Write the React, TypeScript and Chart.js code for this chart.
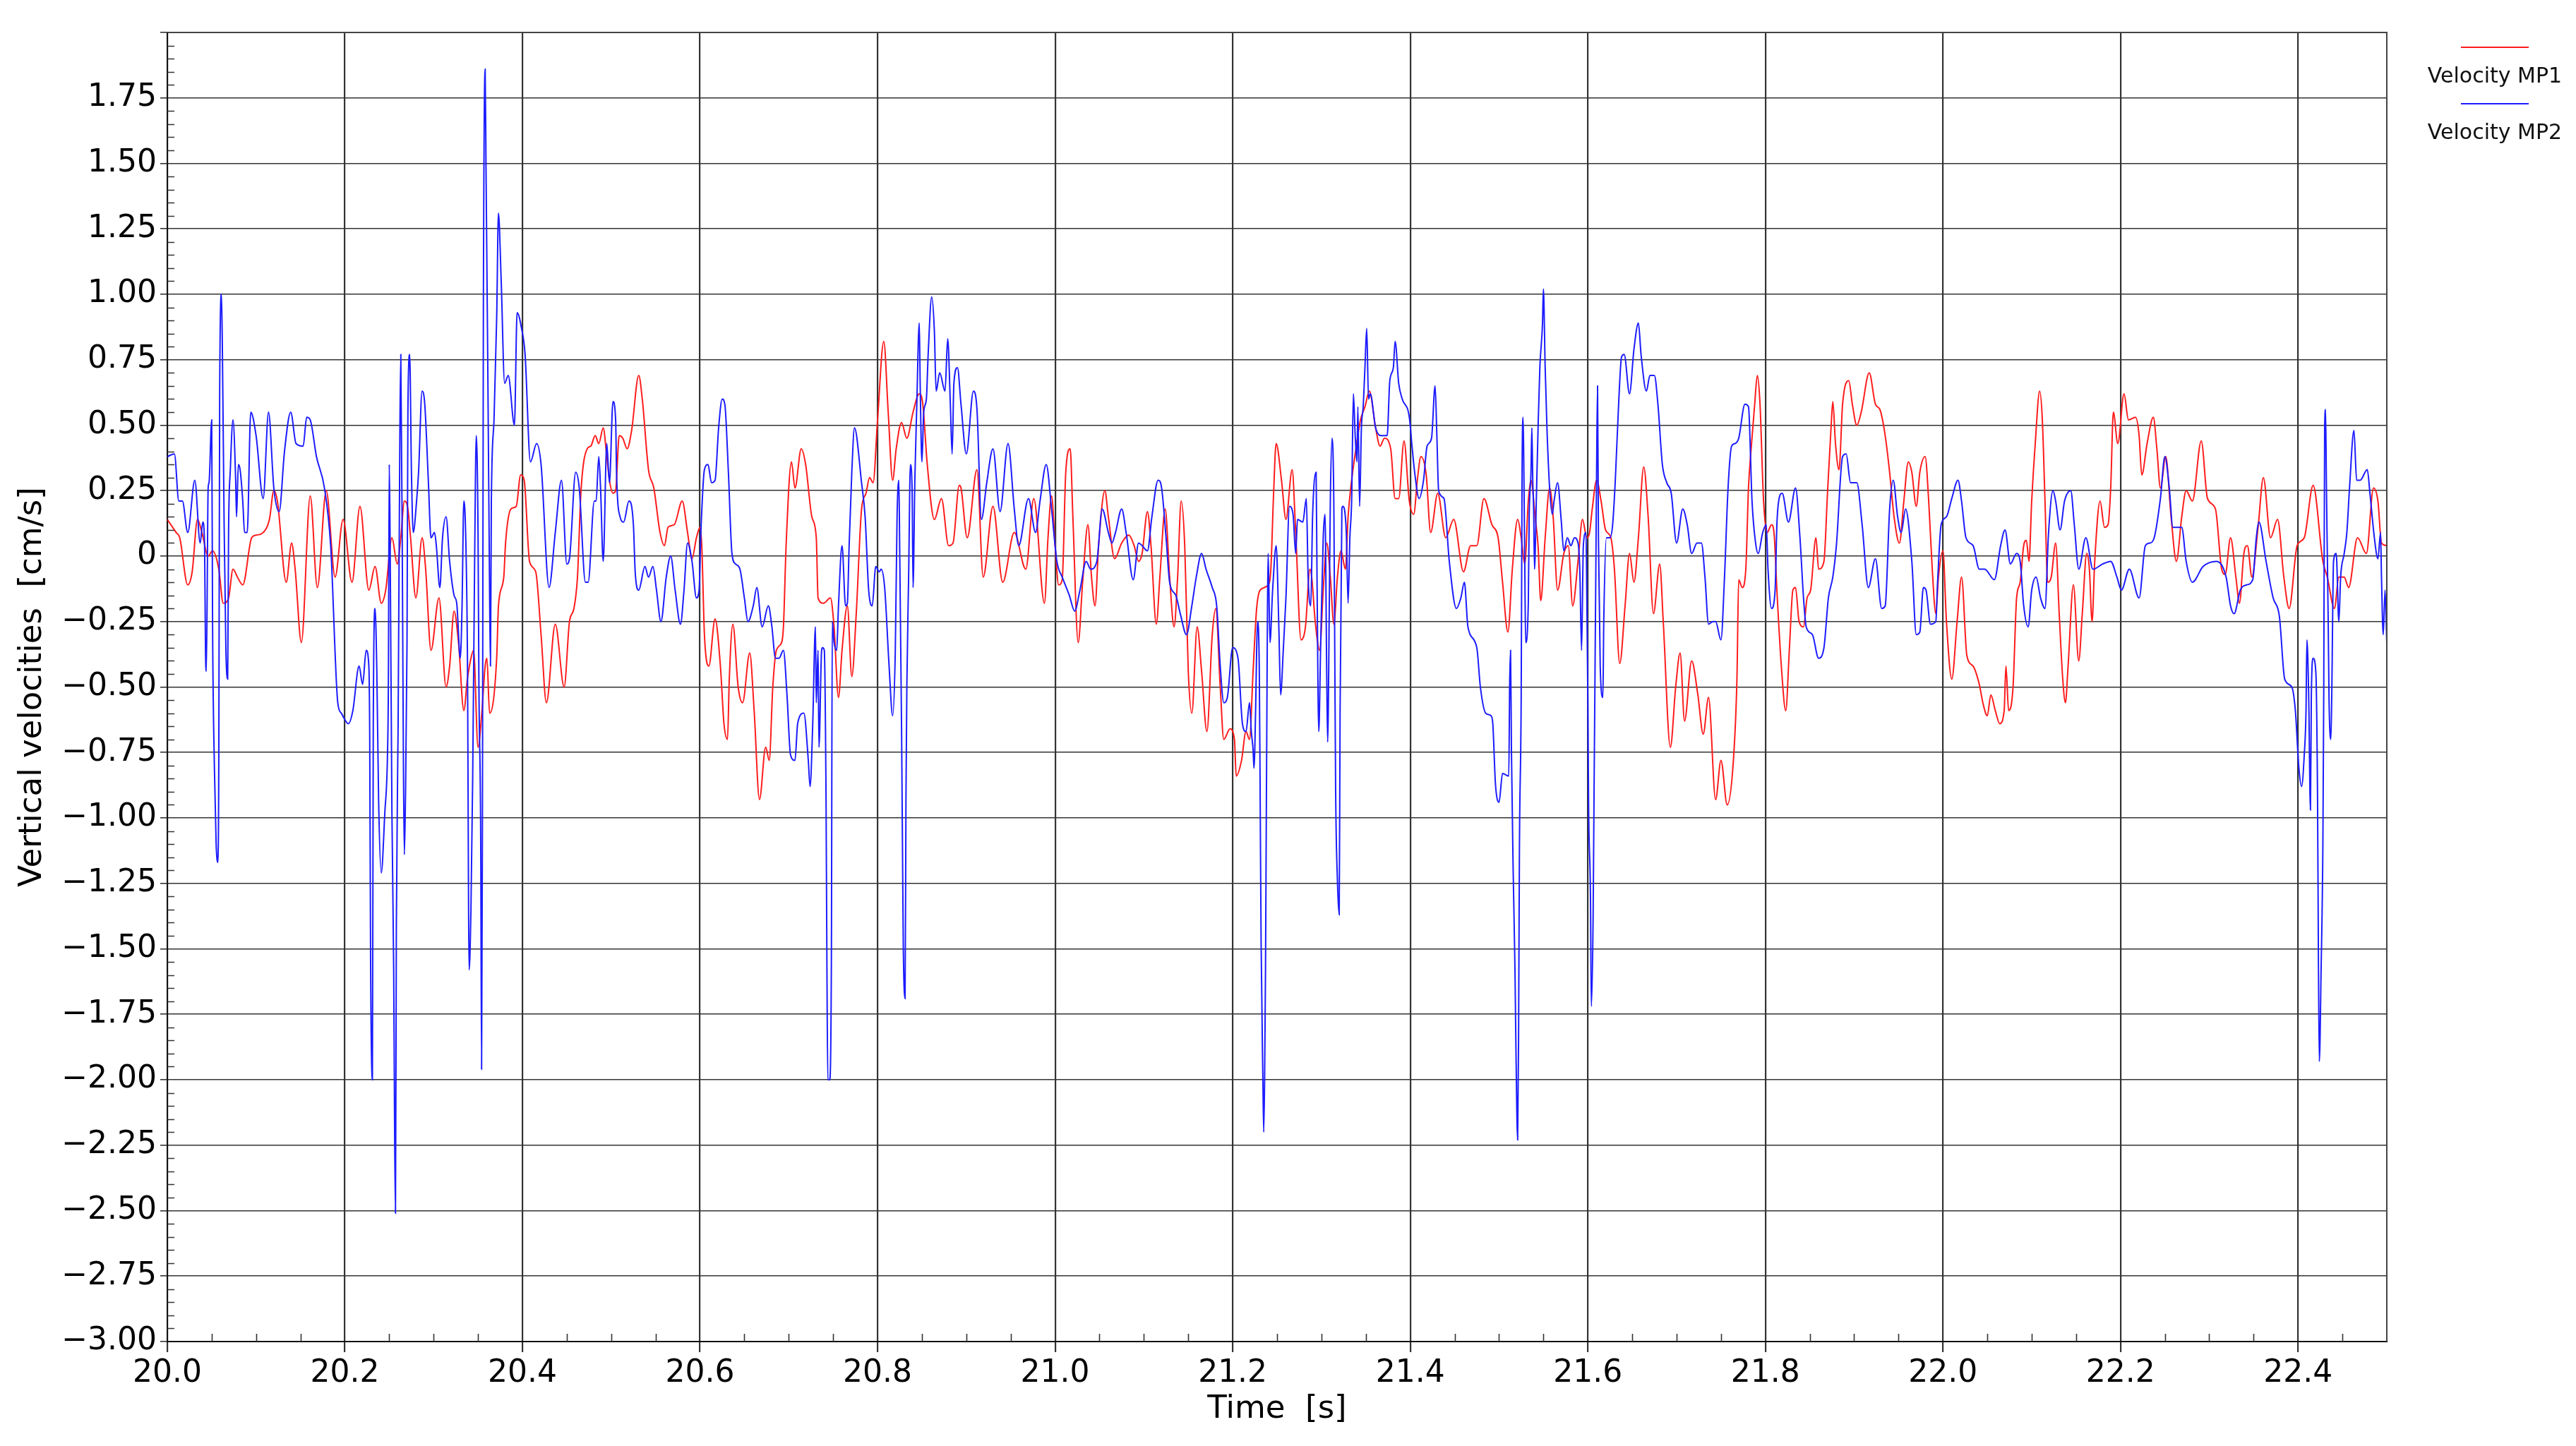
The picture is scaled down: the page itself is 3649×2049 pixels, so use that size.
import React, { useEffect, useRef } from "react";
import { Chart, registerables } from "chart.js";

Chart.register(...registerables);

// ---------- data ----------
const mp1Time = [
  20.000, 20.010, 20.014, 20.023, 20.028, 20.034, 20.039, 20.046, 20.051, 20.058,
  20.063, 20.069, 20.074, 20.079, 20.085, 20.095, 20.100, 20.108, 20.115, 20.120,
  20.124, 20.134, 20.140, 20.144, 20.151, 20.161, 20.169, 20.179, 20.189, 20.198,
  20.208, 20.217, 20.227, 20.234, 20.241, 20.246, 20.253, 20.259, 20.263, 20.267,
  20.271, 20.274, 20.280, 20.287, 20.291, 20.297, 20.306, 20.314, 20.318, 20.323,
  20.328, 20.334, 20.338, 20.342, 20.345, 20.350, 20.354, 20.358, 20.360, 20.363,
  20.371, 20.373, 20.379, 20.381, 20.387, 20.393, 20.398, 20.402, 20.408, 20.415,
  20.421, 20.427, 20.437, 20.447, 20.453, 20.458, 20.462, 20.466, 20.473, 20.477,
  20.482, 20.486, 20.491, 20.495, 20.498, 20.502, 20.505, 20.509, 20.513, 20.518,
  20.523, 20.531, 20.535, 20.542, 20.548, 20.555, 20.560, 20.564, 20.571, 20.580,
  20.586, 20.591, 20.596, 20.600, 20.602, 20.605, 20.610, 20.617, 20.623, 20.627,
  20.631, 20.633, 20.637, 20.643, 20.648, 20.656, 20.661, 20.667, 20.674, 20.678,
  20.682, 20.686, 20.692, 20.694, 20.697, 20.703, 20.707, 20.714, 20.719, 20.726,
  20.731, 20.733, 20.739, 20.747, 20.751, 20.756, 20.760, 20.766, 20.771, 20.776,
  20.782, 20.787, 20.791, 20.795, 20.800, 20.807, 20.812, 20.817, 20.821, 20.827,
  20.833, 20.840, 20.847, 20.851, 20.856, 20.864, 20.872, 20.880, 20.885, 20.892,
  20.894, 20.901, 20.912, 20.919, 20.930, 20.941, 20.954, 20.967, 20.976, 20.988,
  20.992, 20.996, 21.000, 21.004, 21.008, 21.012, 21.017, 21.020, 21.026, 21.031,
  21.037, 21.041, 21.045, 21.049, 21.056, 21.060, 21.067, 21.075, 21.083, 21.089,
  21.094, 21.098, 21.104, 21.108, 21.114, 21.118, 21.124, 21.129, 21.134, 21.138,
  21.142, 21.146, 21.150, 21.154, 21.160, 21.165, 21.171, 21.177, 21.181, 21.186,
  21.190, 21.197, 21.202, 21.204, 21.210, 21.215, 21.219, 21.223, 21.227, 21.231,
  21.240, 21.243, 21.246, 21.249, 21.255, 21.260, 21.267, 21.271, 21.277, 21.282,
  21.287, 21.289, 21.293, 21.298, 21.302, 21.306, 21.310, 21.314, 21.318, 21.322,
  21.327, 21.330, 21.334, 21.338, 21.344, 21.349, 21.354, 21.361, 21.366, 21.371,
  21.378, 21.383, 21.387, 21.393, 21.399, 21.404, 21.408, 21.412, 21.418, 21.423,
  21.431, 21.440, 21.449, 21.460, 21.468, 21.475, 21.483, 21.492, 21.499, 21.504,
  21.510, 21.515, 21.521, 21.525, 21.529, 21.533, 21.536, 21.541, 21.544, 21.547,
  21.552, 21.557, 21.561, 21.566, 21.573, 21.578, 21.583, 21.589, 21.594, 21.599,
  21.602, 21.605, 21.610, 21.615, 21.620, 21.626, 21.630, 21.636, 21.642, 21.647,
  21.652, 21.657, 21.663, 21.668, 21.674, 21.681, 21.685, 21.693, 21.699, 21.704,
  21.709, 21.717, 21.724, 21.730, 21.736, 21.744, 21.750, 21.757, 21.764, 21.768,
  21.770, 21.774, 21.778, 21.781, 21.784, 21.788, 21.791, 21.794, 21.798, 21.802,
  21.807, 21.810, 21.813, 21.818, 21.823, 21.827, 21.831, 21.834, 21.838, 21.843,
  21.847, 21.851, 21.857, 21.860, 21.866, 21.870, 21.874, 21.876, 21.879, 21.883,
  21.887, 21.894, 21.898, 21.903, 21.908, 21.917, 21.924, 21.929, 21.935, 21.940,
  21.945, 21.951, 21.956, 21.961, 21.965, 21.970, 21.974, 21.980, 21.984, 21.988,
  21.992, 21.995, 22.000, 22.004, 22.010, 22.016, 22.021, 22.027, 22.034, 22.041,
  22.045, 22.050, 22.054, 22.059, 22.064, 22.069, 22.071, 22.074, 22.079, 22.083,
  22.087, 22.091, 22.094, 22.097, 22.100, 22.104, 22.109, 22.112, 22.115, 22.118,
  22.122, 22.127, 22.131, 22.135, 22.138, 22.141, 22.147, 22.153, 22.157, 22.162,
  22.165, 22.168, 22.171, 22.177, 22.182, 22.186, 22.189, 22.192, 22.197, 22.204,
  22.209, 22.217, 22.221, 22.224, 22.230, 22.237, 22.241, 22.245, 22.251, 22.257,
  22.263, 22.269, 22.274, 22.281, 22.291, 22.298, 22.307, 22.314, 22.318, 22.324,
  22.330, 22.334, 22.339, 22.343, 22.348, 22.355, 22.361, 22.369, 22.377, 22.384,
  22.390, 22.399, 22.407, 22.417, 22.428, 22.433, 22.441, 22.446, 22.452, 22.457,
  22.467, 22.477, 22.485, 22.490, 22.494, 22.500,
];

const mp1Velocity = [
  0.14, 0.09, 0.07, -0.11, -0.06, 0.14, 0.09, 0.00, 0.02, -0.05,
  -0.18, -0.16, -0.05, -0.08, -0.11, 0.07, 0.08, 0.09, 0.14, 0.25,
  0.21, -0.10, 0.05, -0.05, -0.33, 0.23, -0.12, 0.25, -0.08, 0.14,
  -0.10, 0.19, -0.13, -0.04, -0.18, -0.13, 0.07, -0.03, 0.07, 0.21,
  0.18, 0.07, -0.16, 0.07, -0.05, -0.36, -0.16, -0.50, -0.42, -0.21,
  -0.33, -0.59, -0.47, -0.39, -0.36, -0.73, -0.61, -0.42, -0.39, -0.60,
  -0.39, -0.19, -0.08, 0.05, 0.18, 0.19, 0.31, 0.29, -0.02, -0.06,
  -0.30, -0.56, -0.26, -0.50, -0.25, -0.20, -0.08, 0.25, 0.41, 0.42,
  0.46, 0.43, 0.49, 0.38, 0.29, 0.24, 0.25, 0.46, 0.45, 0.41,
  0.48, 0.69, 0.60, 0.33, 0.26, 0.09, 0.04, 0.11, 0.12, 0.21,
  0.09, -0.01, 0.07, 0.11, 0.04, -0.30, -0.42, -0.24, -0.42, -0.64,
  -0.70, -0.47, -0.26, -0.50, -0.56, -0.37, -0.59, -0.93, -0.73, -0.78,
  -0.50, -0.36, -0.33, -0.27, 0.04, 0.36, 0.26, 0.41, 0.35, 0.15,
  0.07, -0.16, -0.18, -0.16, -0.27, -0.54, -0.36, -0.19, -0.46, -0.22,
  0.18, 0.24, 0.30, 0.28, 0.52, 0.82, 0.55, 0.29, 0.41, 0.51,
  0.45, 0.55, 0.62, 0.58, 0.35, 0.14, 0.22, 0.04, 0.05, 0.27,
  0.26, 0.07, 0.33, -0.08, 0.19, -0.10, 0.09, -0.05, 0.22, -0.18,
  0.07, 0.23, 0.04, -0.11, -0.09, 0.32, 0.41, 0.15, -0.33, -0.10,
  0.12, -0.08, -0.19, 0.04, 0.25, 0.15, -0.01, 0.05, 0.08, 0.04,
  -0.02, 0.01, 0.17, 0.04, -0.26, -0.08, 0.18, -0.08, -0.27, -0.08,
  0.21, 0.04, -0.44, -0.60, -0.27, -0.44, -0.67, -0.30, -0.20, -0.50,
  -0.70, -0.66, -0.70, -0.84, -0.78, -0.67, -0.70, -0.44, -0.20, -0.13,
  -0.11, -0.05, 0.23, 0.43, 0.29, 0.14, 0.33, 0.09, -0.32, -0.27,
  -0.05, -0.08, -0.25, -0.36, -0.13, 0.05, -0.08, -0.26, -0.08, 0.02,
  -0.05, 0.15, 0.29, 0.39, 0.52, 0.57, 0.63, 0.49, 0.42, 0.45,
  0.41, 0.22, 0.22, 0.44, 0.21, 0.16, 0.29, 0.38, 0.31, 0.09,
  0.24, 0.07, 0.14, -0.06, 0.04, 0.04, 0.22, 0.12, 0.07, -0.10,
  -0.29, -0.05, 0.14, 0.07, -0.03, 0.21, 0.29, 0.14, 0.04, -0.17,
  0.07, 0.26, 0.15, -0.13, 0.01, 0.04, -0.19, -0.02, 0.14, 0.07,
  0.09, 0.18, 0.29, 0.21, 0.10, 0.07, -0.05, -0.41, -0.19, 0.01,
  -0.10, 0.07, 0.34, 0.15, -0.22, -0.03, -0.25, -0.73, -0.50, -0.37,
  -0.63, -0.40, -0.53, -0.68, -0.54, -0.93, -0.78, -0.95, -0.78, -0.47,
  -0.09, -0.12, -0.05, 0.26, 0.41, 0.58, 0.69, 0.58, 0.21, 0.09,
  0.12, 0.08, -0.13, -0.42, -0.59, -0.36, -0.13, -0.12, -0.25, -0.27,
  -0.16, -0.13, 0.07, -0.05, -0.02, 0.24, 0.49, 0.59, 0.43, 0.33,
  0.58, 0.67, 0.58, 0.50, 0.55, 0.70, 0.58, 0.56, 0.46, 0.32,
  0.15, 0.05, 0.21, 0.36, 0.32, 0.19, 0.32, 0.38, 0.21, -0.05,
  -0.22, -0.08, 0.02, -0.25, -0.47, -0.25, -0.08, -0.38, -0.42, -0.49,
  -0.56, -0.61, -0.53, -0.59, -0.64, -0.59, -0.42, -0.59, -0.50, -0.16,
  -0.10, 0.04, 0.06, -0.02, 0.21, 0.43, 0.63, 0.52, 0.21, -0.10,
  -0.08, 0.05, -0.22, -0.47, -0.56, -0.42, -0.11, -0.40, -0.22, 0.01,
  -0.05, -0.25, -0.02, 0.21, 0.11, 0.12, 0.26, 0.55, 0.43, 0.62,
  0.52, 0.53, 0.46, 0.31, 0.43, 0.53, 0.41, 0.26, 0.38, 0.15,
  -0.02, 0.15, 0.25, 0.21, 0.44, 0.22, 0.18, -0.05, -0.07, 0.07,
  -0.08, -0.18, 0.01, 0.04, -0.08, 0.11, 0.30, 0.07, 0.14, -0.08,
  -0.20, 0.04, 0.07, 0.27, -0.02, -0.08, -0.20, -0.08, -0.08, -0.12,
  0.07, 0.01, 0.26, 0.21, 0.05, 0.04,
];

const mp2Time = [
  20.000, 20.008, 20.013, 20.017, 20.023, 20.031, 20.037, 20.040, 20.042, 20.043,
  20.044, 20.046, 20.047, 20.050, 20.051, 20.053, 20.055, 20.057, 20.058, 20.059,
  20.061, 20.062, 20.064, 20.066, 20.068, 20.069, 20.071, 20.074, 20.077, 20.078,
  20.080, 20.082, 20.085, 20.087, 20.090, 20.094, 20.100, 20.108, 20.114, 20.120,
  20.126, 20.132, 20.139, 20.145, 20.153, 20.157, 20.161, 20.168, 20.177, 20.184,
  20.192, 20.196, 20.204, 20.209, 20.216, 20.220, 20.224, 20.227, 20.228, 20.229,
  20.231, 20.232, 20.234, 20.236, 20.238, 20.241, 20.245, 20.248, 20.249, 20.250,
  20.251, 20.253, 20.255, 20.256, 20.257, 20.258, 20.260, 20.262, 20.263, 20.265,
  20.266, 20.267, 20.268, 20.270, 20.271, 20.273, 20.275, 20.277, 20.281, 20.283,
  20.287, 20.290, 20.294, 20.297, 20.301, 20.303, 20.307, 20.310, 20.314, 20.318,
  20.323, 20.326, 20.330, 20.332, 20.334, 20.336, 20.338, 20.340, 20.342, 20.344,
  20.346, 20.348, 20.350, 20.351, 20.353, 20.354, 20.355, 20.356, 20.358, 20.359,
  20.361, 20.363, 20.364, 20.365, 20.368, 20.371, 20.373, 20.376, 20.380, 20.384,
  20.391, 20.394, 20.399, 20.403, 20.409, 20.416, 20.421, 20.430, 20.437, 20.444,
  20.450, 20.453, 20.460, 20.464, 20.471, 20.474, 20.481, 20.483, 20.486, 20.488,
  20.491, 20.495, 20.498, 20.502, 20.505, 20.506, 20.510, 20.514, 20.520, 20.525,
  20.527, 20.531, 20.538, 20.542, 20.547, 20.551, 20.556, 20.562, 20.567, 20.572,
  20.578, 20.582, 20.586, 20.591, 20.596, 20.599, 20.601, 20.605, 20.609, 20.613,
  20.617, 20.621, 20.625, 20.628, 20.632, 20.636, 20.640, 20.645, 20.650, 20.654,
  20.660, 20.664, 20.670, 20.677, 20.681, 20.685, 20.689, 20.694, 20.698, 20.702,
  20.707, 20.710, 20.717, 20.722, 20.724, 20.727, 20.730, 20.731, 20.733, 20.734,
  20.737, 20.738, 20.740, 20.742, 20.743, 20.744, 20.746, 20.748, 20.749, 20.751,
  20.754, 20.756, 20.760, 20.764, 20.766, 20.768, 20.771, 20.774, 20.782, 20.786,
  20.790, 20.794, 20.798, 20.802, 20.804, 20.808, 20.813, 20.817, 20.820, 20.822,
  20.824, 20.825, 20.827, 20.828, 20.829, 20.831, 20.832, 20.833, 20.835, 20.837,
  20.839, 20.840, 20.842, 20.844, 20.847, 20.848, 20.850, 20.852, 20.855, 20.857,
  20.861, 20.864, 20.866, 20.870, 20.876, 20.879, 20.882, 20.884, 20.886, 20.890,
  20.894, 20.900, 20.908, 20.912, 20.917, 20.923, 20.930, 20.938, 20.947, 20.954,
  20.959, 20.970, 20.978, 20.983, 20.990, 20.996, 21.002, 21.008, 21.016, 21.022,
  21.028, 21.035, 21.040, 21.047, 21.053, 21.060, 21.064, 21.068, 21.075, 21.080,
  21.088, 21.094, 21.098, 21.104, 21.109, 21.116, 21.120, 21.125, 21.129, 21.136,
  21.141, 21.148, 21.154, 21.159, 21.165, 21.170, 21.177, 21.182, 21.186, 21.190,
  21.194, 21.200, 21.206, 21.211, 21.215, 21.219, 21.221, 21.223, 21.224, 21.226,
  21.227, 21.228, 21.230, 21.231, 21.232, 21.234, 21.235, 21.236, 21.237, 21.238,
  21.240, 21.242, 21.245, 21.249, 21.252, 21.254, 21.257, 21.260, 21.264, 21.268,
  21.271, 21.273, 21.279, 21.283, 21.285, 21.288, 21.290, 21.294, 21.295, 21.297,
  21.299, 21.302, 21.304, 21.306, 21.307, 21.309, 21.310, 21.312, 21.314, 21.315,
  21.316, 21.318, 21.320, 21.321, 21.323, 21.324, 21.328, 21.330, 21.332, 21.334,
  21.336, 21.338, 21.340, 21.341, 21.343, 21.345, 21.347, 21.349, 21.351, 21.353,
  21.355, 21.361, 21.367, 21.374, 21.377, 21.381, 21.383, 21.387, 21.391, 21.399,
  21.402, 21.405, 21.410, 21.415, 21.419, 21.424, 21.428, 21.430, 21.432, 21.438,
  21.444, 21.452, 21.457, 21.461, 21.465, 21.475, 21.479, 21.485, 21.491, 21.493,
  21.496, 21.500, 21.504, 21.511, 21.512, 21.513, 21.514, 21.516, 21.518, 21.519,
  21.521, 21.522, 21.523, 21.525, 21.526, 21.527, 21.529, 21.530, 21.533, 21.534,
  21.536, 21.537, 21.538, 21.539, 21.540, 21.542, 21.544, 21.546, 21.549, 21.550,
  21.552, 21.554, 21.557, 21.560, 21.562, 21.566, 21.570, 21.573, 21.577, 21.581,
  21.585, 21.589, 21.591, 21.593, 21.595, 21.598, 21.599, 21.600, 21.601, 21.603,
  21.604, 21.606, 21.607, 21.609, 21.610, 21.611, 21.612, 21.614, 21.617, 21.618,
  21.621, 21.625, 21.628, 21.631, 21.635, 21.638, 21.641, 21.647, 21.652, 21.657,
  21.660, 21.666, 21.670, 21.675, 21.679, 21.684, 21.689, 21.694, 21.700, 21.707,
  21.712, 21.717, 21.723, 21.728, 21.732, 21.736, 21.741, 21.744, 21.750, 21.754,
  21.758, 21.762, 21.766, 21.770, 21.777, 21.781, 21.785, 21.789, 21.792, 21.797,
  21.801, 21.803, 21.807, 21.811, 21.813, 21.815, 21.819, 21.826, 21.834, 21.839,
  21.843, 21.846, 21.853, 21.860, 21.866, 21.871, 21.876, 21.880, 21.887, 21.891,
  21.896, 21.903, 21.909, 21.916, 21.924, 21.931, 21.935, 21.940, 21.944, 21.949,
  21.953, 21.958, 21.965, 21.970, 21.974, 21.978, 21.981, 21.986, 21.992, 21.994,
  21.998, 22.004, 22.010, 22.017, 22.021, 22.026, 22.034, 22.041, 22.047, 22.058,
  22.065, 22.070, 22.076, 22.083, 22.087, 22.091, 22.096, 22.100, 22.105, 22.110,
  22.115, 22.119, 22.124, 22.127, 22.132, 22.137, 22.144, 22.148, 22.153, 22.161,
  22.169, 22.180, 22.189, 22.196, 22.201, 22.210, 22.221, 22.228, 22.233, 22.238,
  22.245, 22.250, 22.255, 22.259, 22.269, 22.274, 22.281, 22.293, 22.308, 22.319,
  22.324, 22.328, 22.335, 22.342, 22.349, 22.353, 22.356, 22.364, 22.372, 22.379,
  22.385, 22.393, 22.397, 22.401, 22.404, 22.407, 22.409, 22.410, 22.412, 22.414,
  22.415, 22.417, 22.420, 22.422, 22.423, 22.424, 22.426, 22.428, 22.429, 22.430,
  22.431, 22.432, 22.434, 22.435, 22.437, 22.438, 22.440, 22.443, 22.446, 22.448,
  22.452, 22.455, 22.458, 22.463, 22.466, 22.470, 22.478, 22.481, 22.486, 22.490,
  22.493, 22.494, 22.496, 22.498, 22.500,
];

const mp2Velocity = [
  0.38, 0.39, 0.21, 0.21, 0.09, 0.29, 0.05, 0.13, 0.04, -0.36,
  -0.44, 0.26, 0.28, 0.52, -0.27, -0.80, -1.10, -1.17, -0.78, 0.63,
  1.00, 0.80, 0.12, -0.36, -0.47, 0.09, 0.33, 0.52, 0.29, 0.15,
  0.35, 0.33, 0.21, 0.09, 0.09, 0.55, 0.46, 0.22, 0.55, 0.26,
  0.17, 0.40, 0.55, 0.43, 0.42, 0.53, 0.52, 0.38, 0.26, 0.04,
  -0.56, -0.60, -0.64, -0.59, -0.42, -0.49, -0.36, -0.42, -0.69, -1.55,
  -2.00, -0.64, -0.20, -0.44, -0.93, -1.21, -0.98, -0.76, -0.50, 0.35,
  0.04, -0.98, -1.58, -2.17, -2.51, -1.41, -0.64, 0.49, 0.77, -0.19,
  -0.81, -1.14, -0.98, -0.33, 0.55, 0.77, 0.32, 0.09, 0.22, 0.32,
  0.63, 0.58, 0.29, 0.07, 0.09, 0.04, -0.12, 0.07, 0.15, -0.02,
  -0.15, -0.18, -0.39, -0.19, 0.21, 0.09, -0.36, -1.58, -1.35, -0.84,
  -0.08, 0.46, 0.09, -0.50, -1.07, -1.96, -0.93, 0.91, 1.86, 1.48,
  0.72, -0.13, -0.42, 0.21, 0.52, 0.91, 1.31, 1.06, 0.66, 0.69,
  0.50, 0.93, 0.87, 0.77, 0.36, 0.43, 0.35, -0.12, 0.09, 0.29,
  -0.03, -0.01, 0.32, 0.26, -0.10, -0.10, 0.21, 0.21, 0.38, 0.26,
  -0.02, 0.43, 0.28, 0.59, 0.52, 0.32, 0.15, 0.13, 0.21, 0.12,
  -0.06, -0.13, -0.04, -0.08, -0.04, -0.13, -0.25, -0.08, 0.00, -0.13,
  -0.26, -0.13, 0.05, -0.02, -0.16, -0.13, 0.09, 0.33, 0.35, 0.28,
  0.29, 0.49, 0.60, 0.58, 0.32, 0.01, -0.03, -0.05, -0.16, -0.25,
  -0.19, -0.12, -0.27, -0.19, -0.27, -0.39, -0.39, -0.36, -0.53, -0.76,
  -0.78, -0.64, -0.60, -0.78, -0.88, -0.64, -0.27, -0.56, -0.36, -0.73,
  -0.36, -0.35, -0.36, -0.93, -1.58, -2.00, -2.00, -1.55, -0.25, -0.33,
  -0.36, -0.19, 0.04, -0.19, -0.18, 0.04, 0.32, 0.49, 0.28, 0.15,
  -0.13, -0.19, -0.04, -0.06, -0.05, -0.12, -0.42, -0.61, -0.36, 0.15,
  0.29, 0.01, -0.64, -1.07, -1.49, -1.69, -0.93, -0.50, -0.08, 0.35,
  0.24, -0.12, 0.29, 0.55, 0.89, 0.66, 0.36, 0.55, 0.60, 0.77,
  0.99, 0.86, 0.63, 0.70, 0.63, 0.83, 0.58, 0.39, 0.66, 0.72,
  0.58, 0.39, 0.63, 0.56, 0.14, 0.28, 0.41, 0.17, 0.43, 0.18,
  0.04, 0.22, 0.09, 0.21, 0.35, 0.18, -0.02, -0.08, -0.15, -0.21,
  -0.13, -0.02, -0.05, -0.02, 0.18, 0.09, 0.05, 0.09, 0.18, 0.09,
  -0.09, 0.05, 0.04, 0.02, 0.15, 0.29, 0.26, 0.07, -0.10, -0.15,
  -0.22, -0.30, -0.19, -0.08, 0.01, -0.05, -0.12, -0.19, -0.42, -0.56,
  -0.54, -0.35, -0.39, -0.64, -0.67, -0.56, -0.67, -0.74, -0.81, -0.56,
  -0.36, -0.25, -0.44, -0.93, -1.46, -1.99, -2.20, -1.99, -1.58, -0.93,
  0.01, -0.33, -0.13, 0.04, -0.27, -0.53, -0.36, -0.16, 0.19, 0.16,
  0.01, 0.14, 0.13, 0.22, -0.08, -0.19, 0.15, 0.32, -0.08, -0.67,
  -0.36, 0.07, 0.16, -0.47, -0.71, -0.13, 0.21, 0.45, 0.18, -0.36,
  -0.90, -1.24, -1.37, -0.59, 0.18, 0.19, 0.09, -0.18, 0.07, 0.21,
  0.62, 0.46, 0.36, 0.57, 0.19, 0.49, 0.57, 0.72, 0.87, 0.60,
  0.62, 0.49, 0.46, 0.46, 0.67, 0.72, 0.82, 0.66, 0.60, 0.53,
  0.42, 0.32, 0.22, 0.29, 0.42, 0.45, 0.65, 0.46, 0.25, 0.22,
  -0.02, -0.20, -0.16, -0.10, -0.27, -0.35, -0.50, -0.60, -0.61, -0.64,
  -0.87, -0.94, -0.83, -0.84, -0.49, -0.36, -0.74, -1.21, -1.58, -1.86,
  -2.23, -1.86, -1.12, -0.53, 0.32, 0.53, -0.02, -0.33, -0.18, 0.15,
  0.32, 0.49, 0.29, 0.18, -0.05, 0.21, 0.49, 0.72, 0.89, 1.02,
  0.72, 0.49, 0.26, 0.16, 0.21, 0.28, 0.14, 0.02, 0.07, 0.04,
  0.07, 0.05, -0.05, -0.36, 0.04, 0.09, -0.18, -0.53, -0.98, -1.29,
  -1.72, -1.38, -0.93, -0.08, 0.35, 0.65, 0.07, -0.42, -0.54, -0.25,
  0.07, 0.07, 0.12, 0.29, 0.60, 0.76, 0.77, 0.62, 0.79, 0.89,
  0.77, 0.63, 0.69, 0.69, 0.58, 0.35, 0.28, 0.24, 0.05, 0.18,
  0.12, 0.01, 0.05, 0.05, -0.08, -0.26, -0.25, -0.25, -0.32, -0.08,
  0.26, 0.42, 0.43, 0.45, 0.58, 0.57, 0.21, 0.05, 0.01, 0.09,
  0.12, -0.05, -0.20, -0.13, 0.12, 0.21, 0.24, 0.13, 0.26, 0.07,
  -0.16, -0.27, -0.30, -0.39, -0.35, -0.16, -0.08, 0.04, 0.38, 0.39,
  0.28, 0.28, 0.12, -0.12, -0.01, -0.20, -0.19, 0.18, 0.29, 0.15,
  0.09, 0.18, -0.02, -0.30, -0.29, -0.12, -0.13, -0.26, -0.25, -0.10,
  0.12, 0.15, 0.22, 0.29, 0.21, 0.07, 0.04, -0.05, -0.05, -0.09,
  0.04, 0.10, -0.03, 0.01, -0.02, -0.19, -0.27, -0.13, -0.08, -0.16,
  -0.20, 0.09, 0.25, 0.21, 0.10, 0.21, 0.25, 0.12, -0.05, 0.07,
  -0.05, -0.03, -0.02, -0.08, -0.13, -0.05, -0.16, 0.04, 0.05, 0.07,
  0.22, 0.38, 0.26, 0.11, 0.11, -0.02, -0.10, -0.04, -0.02, -0.08,
  -0.19, -0.22, -0.13, -0.11, -0.09, 0.07, 0.13, -0.02, -0.16, -0.23,
  -0.47, -0.50, -0.59, -0.81, -0.88, -0.76, -0.59, -0.32, -0.53, -0.97,
  -0.53, -0.39, -0.44, -0.93, -1.55, -1.93, -1.58, -1.10, -0.50, 0.49,
  0.56, 0.26, -0.25, -0.56, -0.70, -0.53, -0.02, 0.01, -0.25, -0.08,
  0.01, 0.09, 0.26, 0.48, 0.29, 0.29, 0.33, 0.24, 0.07, -0.01,
  0.09, -0.08, -0.30, -0.13, -0.33,
];

const seriesNames = ["Velocity MP1", "Velocity MP2"];
const seriesColors = ["rgb(255, 28, 28)", "rgb(28, 28, 255)"];

const xTickValues = [20.0, 20.2, 20.4, 20.6, 20.8, 21.0, 21.2, 21.4, 21.6, 21.8, 22.0, 22.2, 22.4];
const yTickValues = [
  -3.0, -2.75, -2.5, -2.25, -2.0, -1.75, -1.5, -1.25, -1.0, -0.75, -0.5, -0.25,
  0, 0.25, 0.5, 0.75, 1.0, 1.25, 1.5, 1.75, 2.0,
];
const xRange = [20.0, 22.5];
const yRange = [-3.0, 2.0];
const xMinorStep = 0.05;
const yMinorStep = 0.05;

const xTitle = "Time  [s]";
const yTitle = "Vertical velocities  [cm/s]";

const FONT = "'DejaVu Sans', Verdana, sans-serif";

function fmtY(v: number): string {
  const r = Math.round(v * 100) / 100;
  if (r === yRange[1]) return "";
  if (r === 0) return "0";
  return (r < 0 ? "\u2212" : "") + Math.abs(r).toFixed(2);
}

const decorPlugin = {
  id: "decor",
  afterDraw(chart: any) {
    const { ctx, chartArea: a, scales } = chart;
    const xs = scales.x;
    const ys = scales.y;
    ctx.save();
    // minor ticks (inside the plot)
    ctx.strokeStyle = "#333333";
    ctx.lineWidth = 1.6;
    ctx.beginPath();
    const nY = Math.round((yRange[1] - yRange[0]) / yMinorStep);
    for (let i = 0; i <= nY; i++) {
      const v = yRange[0] + i * yMinorStep;
      const q = v / 0.25;
      if (Math.abs(q - Math.round(q)) < 1e-6) continue;
      const py = Math.round(ys.getPixelForValue(v)) + 0.5;
      ctx.moveTo(a.left, py);
      ctx.lineTo(a.left + 10, py);
    }
    const nX = Math.round((xRange[1] - xRange[0]) / xMinorStep);
    for (let i = 0; i <= nX; i++) {
      const v = xRange[0] + i * xMinorStep;
      const q = (v - xRange[0]) / 0.2;
      if (Math.abs(q - Math.round(q)) < 1e-6) continue;
      if (v >= xRange[1] - 1e-9) continue;
      const px = Math.round(xs.getPixelForValue(v)) + 0.5;
      ctx.moveTo(px, a.bottom);
      ctx.lineTo(px, a.bottom - 11);
    }
    ctx.stroke();

    // top and right frame
    ctx.strokeStyle = "#444444";
    ctx.lineWidth = 2;
    ctx.beginPath();
    ctx.moveTo(a.left, a.top);
    ctx.lineTo(a.right, a.top);
    ctx.lineTo(a.right, a.bottom);
    ctx.stroke();

    // legend (line above text), outside at the top right
    const cx = a.right + 153;
    ctx.font = `30px ${FONT}`;
    ctx.textAlign = "center";
    ctx.textBaseline = "alphabetic";
    seriesNames.forEach((name, i) => {
      const lineY = a.top + 21 + i * 80;
      ctx.strokeStyle = seriesColors[i];
      ctx.lineWidth = 2;
      ctx.beginPath();
      ctx.moveTo(cx - 48, lineY);
      ctx.lineTo(cx + 48, lineY);
      ctx.stroke();
      ctx.fillStyle = "#111111";
      ctx.fillText(name, cx, lineY + 50);
    });
    ctx.restore();
  },
};

export default function App() {
  const canvasRef = useRef<HTMLCanvasElement | null>(null);

  useEffect(() => {
    const canvas = canvasRef.current;
    if (!canvas) return;
    const mp1 = mp1Time.map((t, i) => ({ x: t, y: mp1Velocity[i] }));
    const mp2 = mp2Time.map((t, i) => ({ x: t, y: mp2Velocity[i] }));

    const chart = new Chart(canvas, {
      type: "line",
      data: {
        datasets: [
          {
            label: seriesNames[0],
            data: mp1,
            borderColor: seriesColors[0],
            borderWidth: 2,
            pointRadius: 0,
            cubicInterpolationMode: "monotone",
            fill: false,
            order: 1,
          },
          {
            label: seriesNames[1],
            data: mp2,
            borderColor: seriesColors[1],
            borderWidth: 2,
            pointRadius: 0,
            cubicInterpolationMode: "monotone",
            fill: false,
            order: 0,
          },
        ],
      },
      options: {
        animation: false,
        responsive: false,
        devicePixelRatio: 1,
        layout: { padding: { left: 0, top: 46, right: 268, bottom: 0 } },
        plugins: {
          legend: { display: false },
          tooltip: { enabled: false },
          title: { display: false },
        },
        scales: {
          x: {
            type: "linear",
            min: xRange[0],
            max: xRange[1],
            afterBuildTicks: (scale: any) => {
              scale.ticks = xTickValues.map((v) => ({ value: v }));
            },
            afterFit: (scale: any) => {
              scale.height = 148;
            },
            ticks: {
              autoSkip: false,
              maxRotation: 0,
              padding: 4,
              color: "#000000",
              font: { family: FONT, size: 44 },
              callback: (v: any) => Number(v).toFixed(1),
            },
            grid: {
              color: "#333333",
              lineWidth: 2.2,
              tickLength: 15,
              drawTicks: true,
            },
            border: { display: true, color: "#111111", width: 2 },
            title: {
              display: true,
              text: xTitle,
              color: "#000000",
              font: { family: FONT, size: 45 },
              padding: { top: 0, bottom: 25 },
            },
          },
          y: {
            type: "linear",
            min: yRange[0],
            max: yRange[1],
            afterBuildTicks: (scale: any) => {
              scale.ticks = yTickValues.map((v) => ({ value: v }));
            },
            afterFit: (scale: any) => {
              scale.width = 237;
            },
            ticks: {
              autoSkip: false,
              padding: 5,
              color: "#000000",
              font: { family: FONT, size: 44 },
              callback: (v: any) => fmtY(Number(v)),
            },
            grid: {
              color: "#333333",
              lineWidth: 1.6,
              tickLength: 10,
              drawTicks: true,
            },
            border: { display: true, color: "#111111", width: 2 },
            title: {
              display: true,
              text: yTitle,
              color: "#000000",
              font: { family: FONT, size: 45 },
              padding: { top: 19, bottom: 0 },
            },
          },
        },
      },
      plugins: [decorPlugin],
    } as any);

    return () => {
      chart.destroy();
    };
  }, []);

  return (
    <div
      style={{
        position: "fixed",
        left: 0,
        top: 0,
        width: "3649px",
        height: "2049px",
        background: "#ffffff",
        overflow: "hidden",
      }}
    >
      <canvas
        ref={canvasRef}
        width={3649}
        height={2049}
        style={{ width: "3649px", height: "2049px", display: "block" }}
      />
    </div>
  );
}
